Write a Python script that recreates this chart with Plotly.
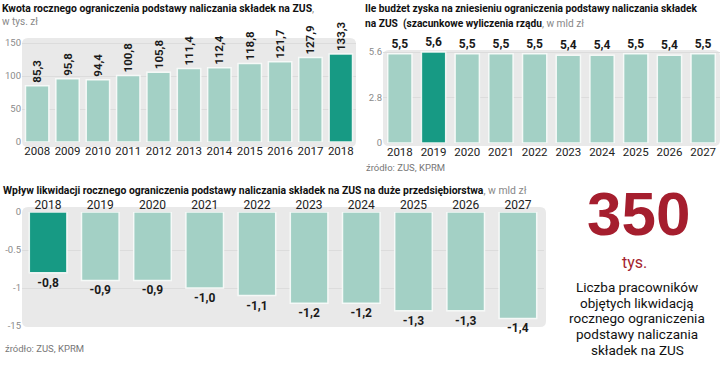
import plotly.graph_objects as go

# ---------------- data ----------------
years1 = ["2008", "2009", "2010", "2011", "2012", "2013", "2014", "2015", "2016", "2017", "2018"]
vals1 = [85.3, 95.8, 94.4, 100.8, 105.8, 111.4, 112.4, 118.8, 121.7, 127.9, 133.3]
hl1 = 10

years2 = ["2018", "2019", "2020", "2021", "2022", "2023", "2024", "2025", "2026", "2027"]
vals2 = [5.5, 5.6, 5.5, 5.5, 5.5, 5.4, 5.4, 5.5, 5.4, 5.5]
hl2 = 1

years3 = ["2018", "2019", "2020", "2021", "2022", "2023", "2024", "2025", "2026", "2027"]
vals3 = [-0.8, -0.9, -0.9, -1.0, -1.1, -1.2, -1.2, -1.3, -1.3, -1.4]
hl3 = 0

ticks1 = [0, 50, 100, 150]
ticks1_text = ["0", "50", "100", "150"]
ticks2 = [0, 2.8, 5.6]
ticks2_text = ["0", "2.8", "5.6"]
ticks3 = [0, -0.5, -1, -1.5]
ticks3_text = ["0", "-0.5", "-1", "-15"]

big_number = "350"
big_unit = "tys."
desc_lines = ["Liczba pracowników", "objętych likwidacją", "rocznego ograniczenia",
              "podstawy naliczania", "składek na ZUS"]

# ---------------- style ----------------
W, H = 720, 372
LIGHT = "#a3d0c5"
DARK = "#179a84"
RED = "#a51e2e"
BG = "#e9e9e9"
FONT = "Roboto, sans-serif"
TICKC = "#8a8a8a"
EDGE = "rgba(250,252,251,0.9)"


def fmt(v):
    return f"{v:.1f}".replace(".", ",")


def px_x(x):
    return x / W


def px_y(y):
    return 1 - y / H


def colors(n, h):
    return [DARK if i == h else LIGHT for i in range(n)]


fig = go.Figure()

fig.add_trace(go.Bar(
    x=years1, y=vals1, marker=dict(color=colors(len(vals1), hl1), line=dict(color=EDGE, width=1.5)),
    text=[fmt(v) for v in vals1], textposition="outside", textangle=-90, constraintext="none",
    textfont=dict(family=FONT, size=11.5, color="#1a1a1a", weight="bold"),
    cliponaxis=False, xaxis="x", yaxis="y", width=0.77, hoverinfo="skip"))

fig.add_trace(go.Bar(
    x=years2, y=vals2, marker=dict(color=colors(len(vals2), hl2), line=dict(color=EDGE, width=1.5)),
    text=[fmt(v) for v in vals2], textposition="outside", textangle=0, constraintext="none",
    textfont=dict(family=FONT, size=12, color="#1a1a1a", weight="bold"),
    cliponaxis=False, xaxis="x2", yaxis="y2", width=0.72, hoverinfo="skip"))

fig.add_trace(go.Bar(
    x=years3, y=vals3, marker=dict(color=colors(len(vals3), hl3), line=dict(color=EDGE, width=1.5)),
    text=[fmt(v) for v in vals3], textposition="outside", textangle=0, constraintext="none",
    textfont=dict(family=FONT, size=12, color="#1a1a1a", weight="bold"),
    cliponaxis=False, xaxis="x3", yaxis="y3", width=0.72, hoverinfo="skip"))

ytick = dict(family=FONT, size=9.5, color=TICKC)
xtick = dict(family=FONT, size=11.5, color="#222")
xtick3 = dict(family=FONT, size=12, color="#222")

common_x = dict(type="category", showgrid=False, zeroline=False, showline=False,
                ticks="", ticklen=0, tickangle=0, automargin=False)
common_y = dict(showgrid=True, gridcolor="#dcdcdc", zeroline=False, showline=False,
                automargin=False, tickfont=ytick)

fig.update_layout(
    width=W, height=H, margin=dict(l=0, r=0, t=0, b=0, autoexpand=False),
    paper_bgcolor="white", plot_bgcolor="rgba(0,0,0,0)", showlegend=False,
    xaxis=dict(domain=[px_x(22), px_x(356)], anchor="y", range=[-0.5, 10.5],
               tickfont=xtick, **common_x),
    yaxis=dict(domain=[px_y(142), px_y(38)], anchor="x", range=[0, 157.6],
               tickvals=ticks1, ticktext=ticks1_text, **common_y),
    xaxis2=dict(domain=[px_x(383), 1.0], anchor="y2", range=[-0.5, 9.5],
                tickfont=xtick, **common_x),
    yaxis2=dict(domain=[px_y(143), px_y(40)], anchor="x2", range=[0, 6.34],
                tickvals=ticks2, ticktext=ticks2_text, **common_y),
    xaxis3=dict(domain=[px_x(22), px_x(544)], anchor="y3", side="top", range=[-0.5, 9.5],
                tickfont=xtick3, **common_x),
    yaxis3=dict(domain=[px_y(327), px_y(212)], anchor="x3", range=[-1.513, 0],
                tickvals=ticks3, ticktext=ticks3_text, **common_y),
)


def rounded(x0, y0, x1, y1, r=6):
    X0, X1 = px_x(x0), px_x(x1)
    Y0, Y1 = px_y(y1), px_y(y0)
    rx, ry = r / W, r / H
    return (f"M {X0+rx},{Y0} L {X1-rx},{Y0} Q {X1},{Y0} {X1},{Y0+ry} "
            f"L {X1},{Y1-ry} Q {X1},{Y1} {X1-rx},{Y1} L {X0+rx},{Y1} "
            f"Q {X0},{Y1} {X0},{Y1-ry} L {X0},{Y0+ry} Q {X0},{Y0} {X0+rx},{Y0} Z")


shapes = []
for (a, b, c, d) in [(22, 38, 356, 147), (383, 50, 720, 146), (22, 207, 546, 327)]:
    shapes.append(dict(type="path", path=rounded(a, b, c, d), xref="paper", yref="paper",
                       fillcolor=BG, line=dict(width=0), layer="below"))
fig.update_layout(shapes=shapes)

ann = []


def text(x, y, s, size, color="#111", family=FONT, xanchor="left", yanchor="middle"):
    ann.append(dict(x=px_x(x), y=px_y(y), xref="paper", yref="paper", text=s,
                    showarrow=False, xanchor=xanchor, yanchor=yanchor,
                    font=dict(family=family, size=size, color=color)))


text(0, 9, "<b>Kwota rocznego ograniczenia podstawy naliczania składek na ZUS</b>"
     "<span style='color:#888'>,</span>", 10.4)
text(0, 22, "w tys. zł", 10, color="#888")
text(363, 9, "<b>Ile budżet zyska na zniesieniu ograniczenia podstawy naliczania składek</b>", 10.2)
text(363, 24, "<b>na ZUS  (szacunkowe wyliczenia rządu</b><span style='color:#888'>, w mld zł</span>", 10.2)
text(1, 190, "<b>Wpływ likwidacji rocznego ograniczenia podstawy naliczania składek na ZUS "
     "na duże przedsiębiorstwa</b><span style='color:#888'>, w mld zł</span>", 10.4)
text(364, 167, "źródło: ZUS, KPRM", 9.5, color="#777")
text(3, 348, "źródło: ZUS, KPRM", 9.5, color="#777")

text(638, 213, f"<b>{big_number}</b>", 62, color=RED,
     family="Liberation Sans, Arial, sans-serif", xanchor="center")
text(634, 262, big_unit, 16, color=RED, family=FONT, xanchor="center")
for i, line in enumerate(desc_lines):
    text(637, 287 + i * 15.7, line, 13.5, color="#111", family=FONT, xanchor="center")

fig.update_layout(annotations=ann)

fig.write_html("out.html", config={"displayModeBar": False, "staticPlot": True},
               post_script="document.body.style.margin='0px';")
